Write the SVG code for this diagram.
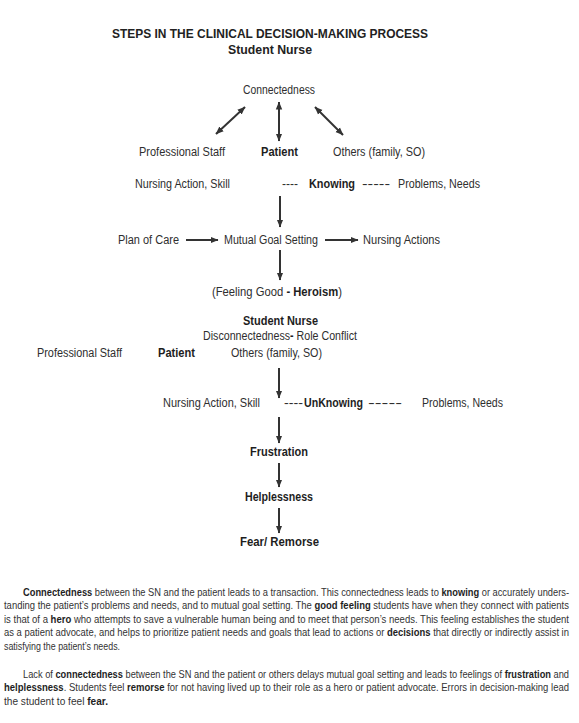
<svg xmlns="http://www.w3.org/2000/svg" width="579" height="723" viewBox="0 0 579 723">
<style>
text{font-family:"Liberation Sans",Arial,sans-serif;fill:#2e2e2e;}
.t{font-size:12.5px;font-weight:bold;fill:#222;}
.l{font-size:12px;}
.b{font-weight:bold;fill:#1e1e1e;}
.p{font-size:10.5px;fill:#333;}
.c{stroke:#333;stroke-width:2;fill:none;}
</style>
<defs>
<marker id="ah" markerUnits="userSpaceOnUse" viewBox="0 0 8 8" refX="7.5" refY="4" markerWidth="8" markerHeight="8" orient="auto-start-reverse">
<path d="M0,0.8 L8,4 L0,7.2 z" fill="#333"/>
</marker>
</defs>
<rect width="579" height="723" fill="#fff"/>
<g id="title">
<text class="t" x="112" y="38" textLength="316" lengthAdjust="spacingAndGlyphs">STEPS IN THE CLINICAL DECISION-MAKING PROCESS</text>
<text class="t" x="228" y="54" textLength="84" lengthAdjust="spacingAndGlyphs">Student Nurse</text>
</g>
<g id="connectors">
<line class="c" x1="216" y1="134" x2="245" y2="107" marker-start="url(#ah)" marker-end="url(#ah)"/>
<line class="c" x1="279" y1="102" x2="279" y2="141" marker-start="url(#ah)" marker-end="url(#ah)"/>
<line class="c" x1="315" y1="107" x2="343" y2="135" marker-start="url(#ah)" marker-end="url(#ah)"/>
<line class="c" x1="280" y1="196" x2="280" y2="227" marker-end="url(#ah)"/>
<line class="c" x1="186" y1="240" x2="218" y2="240" marker-end="url(#ah)"/>
<line class="c" x1="325" y1="240" x2="358" y2="240" marker-end="url(#ah)"/>
<line class="c" x1="280" y1="250" x2="280" y2="280" marker-end="url(#ah)"/>
<line class="c" x1="279" y1="368" x2="279" y2="398" marker-end="url(#ah)"/>
<line class="c" x1="279" y1="417" x2="279" y2="443" marker-end="url(#ah)"/>
<line class="c" x1="279" y1="463" x2="279" y2="487" marker-end="url(#ah)"/>
<line class="c" x1="279" y1="508" x2="279" y2="533" marker-end="url(#ah)"/>
</g>
<g id="connectedness"><text class="l" x="243" y="94" textLength="72" lengthAdjust="spacingAndGlyphs">Connectedness</text></g>
<g id="professional-staff-1"><text class="l" x="139" y="156" textLength="86" lengthAdjust="spacingAndGlyphs">Professional Staff</text></g>
<g id="patient-1"><text class="l b" x="261" y="156" textLength="37" lengthAdjust="spacingAndGlyphs">Patient</text></g>
<g id="others-1"><text class="l" x="333" y="156" textLength="92" lengthAdjust="spacingAndGlyphs">Others (family, SO)</text></g>
<g id="nursing-action-1"><text class="l" x="135" y="188" textLength="95" lengthAdjust="spacingAndGlyphs">Nursing Action, Skill</text></g>
<g id="knowing">
<text class="l" x="282" y="188" textLength="16" lengthAdjust="spacingAndGlyphs">----</text>
<text class="l b" x="309" y="188" textLength="46" lengthAdjust="spacingAndGlyphs">Knowing</text>
<text class="l" x="362" y="188" textLength="28" lengthAdjust="spacingAndGlyphs">-----</text>
</g>
<g id="problems-1"><text class="l" x="398" y="188" textLength="82" lengthAdjust="spacingAndGlyphs">Problems, Needs</text></g>
<g id="plan-of-care"><text class="l" x="118" y="244" textLength="61" lengthAdjust="spacingAndGlyphs">Plan of Care</text></g>
<g id="mutual-goal"><text class="l" x="224" y="244" textLength="94" lengthAdjust="spacingAndGlyphs">Mutual Goal Setting</text></g>
<g id="nursing-actions"><text class="l" x="363" y="244" textLength="77" lengthAdjust="spacingAndGlyphs">Nursing Actions</text></g>
<g id="feeling-good"><text class="l" x="212" y="296" textLength="130" lengthAdjust="spacingAndGlyphs">(Feeling Good <tspan class="b">- Heroism</tspan>)</text></g>
<g id="student-nurse-2"><text class="l b" x="243" y="325" textLength="75" lengthAdjust="spacingAndGlyphs">Student Nurse</text></g>
<g id="disconnectedness"><text class="l" x="203" y="340" textLength="154" lengthAdjust="spacingAndGlyphs">Disconnectedness<tspan class="b">-</tspan> Role Conflict</text></g>
<g id="professional-staff-2"><text class="l" x="37" y="357" textLength="85" lengthAdjust="spacingAndGlyphs">Professional Staff</text></g>
<g id="patient-2"><text class="l b" x="158" y="357" textLength="37" lengthAdjust="spacingAndGlyphs">Patient</text></g>
<g id="others-2"><text class="l" x="231" y="357" textLength="91" lengthAdjust="spacingAndGlyphs">Others (family, SO)</text></g>
<g id="nursing-action-2"><text class="l" x="163" y="407" textLength="97" lengthAdjust="spacingAndGlyphs">Nursing Action, Skill</text></g>
<g id="unknowing">
<text class="l" x="284" y="407" textLength="19" lengthAdjust="spacingAndGlyphs">----</text>
<text class="l b" x="304" y="407" textLength="59" lengthAdjust="spacingAndGlyphs">UnKnowing</text>
<text class="l" x="368" y="407" textLength="34" lengthAdjust="spacingAndGlyphs">-----</text>
</g>
<g id="problems-2"><text class="l" x="422" y="407" textLength="81" lengthAdjust="spacingAndGlyphs">Problems, Needs</text></g>
<g id="frustration"><text class="l b" x="250" y="456" textLength="58" lengthAdjust="spacingAndGlyphs">Frustration</text></g>
<g id="helplessness"><text class="l b" x="245" y="501" textLength="68" lengthAdjust="spacingAndGlyphs">Helplessness</text></g>
<g id="fear-remorse"><text class="l b" x="240" y="546" textLength="79" lengthAdjust="spacingAndGlyphs">Fear/ Remorse</text></g>
<g id="paragraph-1" transform="scale(0.85,1)">
<text class="p" x="27.06" y="596" textLength="642.4" lengthAdjust="spacingAndGlyphs"><tspan class="b">Connectedness</tspan> between the SN and the patient leads to a transaction. This connectedness leads to <tspan class="b">knowing</tspan> or accurately unders-</text>
<text class="p" x="4.7" y="609.5" textLength="664.7" lengthAdjust="spacingAndGlyphs">tanding the patient’s problems and needs, and to mutual goal setting. The <tspan class="b">good feeling</tspan> students have when they connect with patients</text>
<text class="p" x="4.7" y="623" textLength="664.7" lengthAdjust="spacingAndGlyphs">is that of a <tspan class="b">hero</tspan> who attempts to save a vulnerable human being and to meet that person’s needs. This feeling establishes the student</text>
<text class="p" x="4.7" y="636.5" textLength="664.7" lengthAdjust="spacingAndGlyphs">as a patient advocate, and helps to prioritize patient needs and goals that lead to actions or <tspan class="b">decisions</tspan> that directly or indirectly assist in</text>
<text class="p" x="4.7" y="650" textLength="136.5" lengthAdjust="spacingAndGlyphs">satisfying the patient’s needs.</text>
</g>
<g id="paragraph-2" transform="scale(0.85,1)">
<text class="p" x="27.06" y="678" textLength="642.4" lengthAdjust="spacingAndGlyphs">Lack of <tspan class="b">connectedness</tspan> between the SN and the patient or others delays mutual goal setting and leads to feelings of <tspan class="b">frustration</tspan> and</text>
<text class="p" x="4.7" y="691.5" textLength="664.7" lengthAdjust="spacingAndGlyphs"><tspan class="b">helplessness</tspan>. Students feel <tspan class="b">remorse</tspan> for not having lived up to their role as a hero or patient advocate. Errors in decision-making lead</text>
<text class="p" x="4.7" y="705" textLength="122.4" lengthAdjust="spacingAndGlyphs">the student to feel <tspan class="b">fear.</tspan></text>
</g>
</svg>
